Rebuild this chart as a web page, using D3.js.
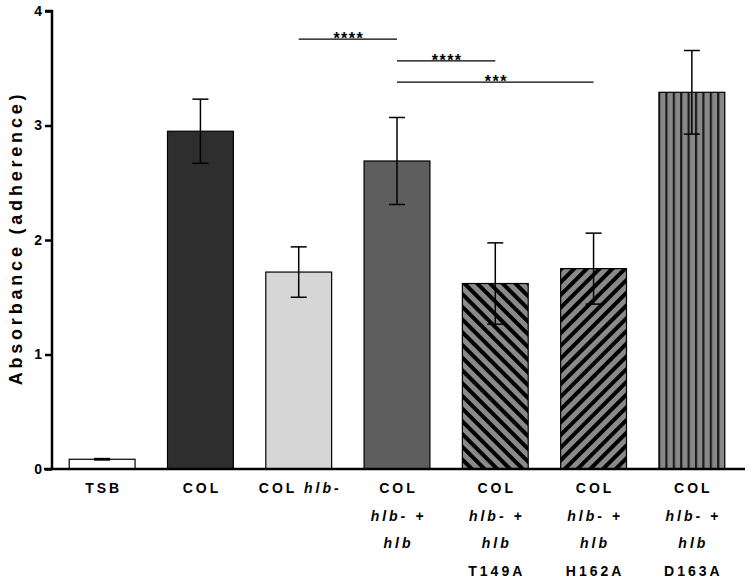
<!DOCTYPE html>
<html><head><meta charset="utf-8">
<script src="https://cdn.jsdelivr.net/npm/d3@7"></script>
<style>
body{margin:0;background:#fff;}
svg{display:block;font-family:Arial,"Liberation Sans",sans-serif;}
</style></head>
<body><svg id="c" width="752" height="583"></svg>
<script>
// ---- data ----
const categories = ["TSB","COL","COL hlb-","COL hlb- + hlb","COL hlb- + hlb T149A","COL hlb- + hlb H162A","COL hlb- + hlb D163A"];
const means = [0.085, 2.95, 1.72, 2.69, 1.62, 1.75, 3.29];
const errors = [0.006, 0.28, 0.22, 0.38, 0.355, 0.31, 0.365];
const fills = ["#ffffff","#2e2e2e","#d6d6d6","#5e5e5e","url(#diagB)","url(#diagF)","url(#vert)"];
const yTicks = [0,1,2,3,4];
// label lines: arrays of [text, italic]
const labelLines = [
  [[["TSB",false]]],
  [[["COL",false]]],
  [[["COL ",false],["hlb-",true]]],
  [[["COL",false]],[["hlb- +",true]],[["hlb",true]]],
  [[["COL",false]],[["hlb- +",true]],[["hlb",true]],[["T149A",false]]],
  [[["COL",false]],[["hlb- +",true]],[["hlb",true]],[["H162A",false]]],
  [[["COL",false]],[["hlb- +",true]],[["hlb",true]],[["D163A",false]]]
];
const comparisons = [
  {from:2,to:3,y:3.755,label:"****"},
  {from:3,to:4,y:3.565,label:"****"},
  {from:3,to:5,y:3.378,label:"***"}
];

const svg = d3.select("#c");
const x = d3.scaleBand().domain(categories).range([53,741]).paddingInner(0.33).paddingOuter(0.165);
const y = d3.scaleLinear().domain([0,4]).range([469,11]);

// patterns
const defs = svg.append("defs");
function diag(id, angle){
  const p = defs.append("pattern").attr("id",id).attr("patternUnits","userSpaceOnUse")
    .attr("width",9).attr("height",9).attr("patternTransform",`rotate(${angle})`);
  p.append("rect").attr("width",9).attr("height",9).attr("fill","#8a8a8a");
  p.append("rect").attr("x",0).attr("width",4).attr("height",9).attr("fill","#000");
}
diag("diagB",-45);
diag("diagF",45);
const vx = x(categories[6]);
const vp = defs.append("pattern").attr("id","vert").attr("patternUnits","userSpaceOnUse")
  .attr("x",vx+6.4).attr("y",0).attr("width",7.4).attr("height",10);
vp.append("rect").attr("width",7.4).attr("height",10).attr("fill","#888");
vp.append("rect").attr("x",0).attr("width",2.2).attr("height",10).attr("fill","#1a1a1a");

// bars
svg.append("g").selectAll("rect").data(categories).join("rect")
  .attr("x",d=>x(d)).attr("width",x.bandwidth())
  .attr("y",(d,i)=>y(means[i])).attr("height",(d,i)=>y(0)-y(means[i]))
  .attr("fill",(d,i)=>fills[i]).attr("stroke","#000").attr("stroke-width",1.2);

// error bars
const eg = svg.append("g").attr("stroke","#000").attr("stroke-width",1.5);
categories.forEach((c,i)=>{
  const cx = x(c)+x.bandwidth()/2;
  const t = y(means[i]+errors[i]), b = y(means[i]-errors[i]);
  eg.append("line").attr("x1",cx).attr("x2",cx).attr("y1",t).attr("y2",b);
  eg.append("line").attr("x1",cx-8).attr("x2",cx+8).attr("y1",t).attr("y2",t);
  eg.append("line").attr("x1",cx-8).attr("x2",cx+8).attr("y1",b).attr("y2",b);
});

// y axis
const ya = svg.append("g").attr("transform","translate(52,0)")
  .call(d3.axisLeft(y).tickValues(yTicks).tickFormat(d3.format("d")).tickSize(7).tickPadding(3));
ya.select(".domain").attr("stroke-width",2.5).attr("d",`M-7,${y(4)}H0V${y(0)}`);
ya.selectAll(".tick line").attr("stroke-width",2.5);
ya.selectAll(".tick text").attr("font-size",14).attr("font-weight","bold").attr("fill","#000")
  .attr("font-family","Arial,'Liberation Sans',sans-serif");

// x axis line
svg.append("line").attr("x1",44).attr("x2",745).attr("y1",y(0)).attr("y2",y(0))
  .attr("stroke","#000").attr("stroke-width",2.5);

// x labels
const lg = svg.append("g").attr("font-size",14).attr("font-weight","bold").attr("letter-spacing","3px")
  .attr("text-anchor","middle").attr("fill","#000");
categories.forEach((c,i)=>{
  const cx = x(c)+x.bandwidth()/2;
  labelLines[i].forEach((line,j)=>{
    const t = lg.append("text").attr("x",cx+1.5).attr("y",493+j*27.5);
    line.forEach(([s,it])=>{
      t.append("tspan").text(s).attr("font-style",it?"italic":"normal");
    });
  });
});

// y title
svg.append("text").attr("transform",`translate(22,${238}) rotate(-90)`)
  .attr("text-anchor","middle").attr("font-size",18).attr("font-weight","bold")
  .attr("letter-spacing","3.8px").text("Absorbance (adherence)");

// significance
const sg = svg.append("g");
comparisons.forEach(c=>{
  const x1 = x(categories[c.from])+x.bandwidth()/2, x2 = x(categories[c.to])+x.bandwidth()/2;
  sg.append("line").attr("x1",x1).attr("x2",x2).attr("y1",y(c.y)).attr("y2",y(c.y))
    .attr("stroke","#000").attr("stroke-width",1.2);
  sg.append("text").attr("x",(x1+x2)/2+1).attr("y",y(c.y)+5).attr("text-anchor","middle")
    .attr("font-size",16).attr("font-weight","bold").attr("letter-spacing","1.5px").text(c.label);
});
</script></body></html>
